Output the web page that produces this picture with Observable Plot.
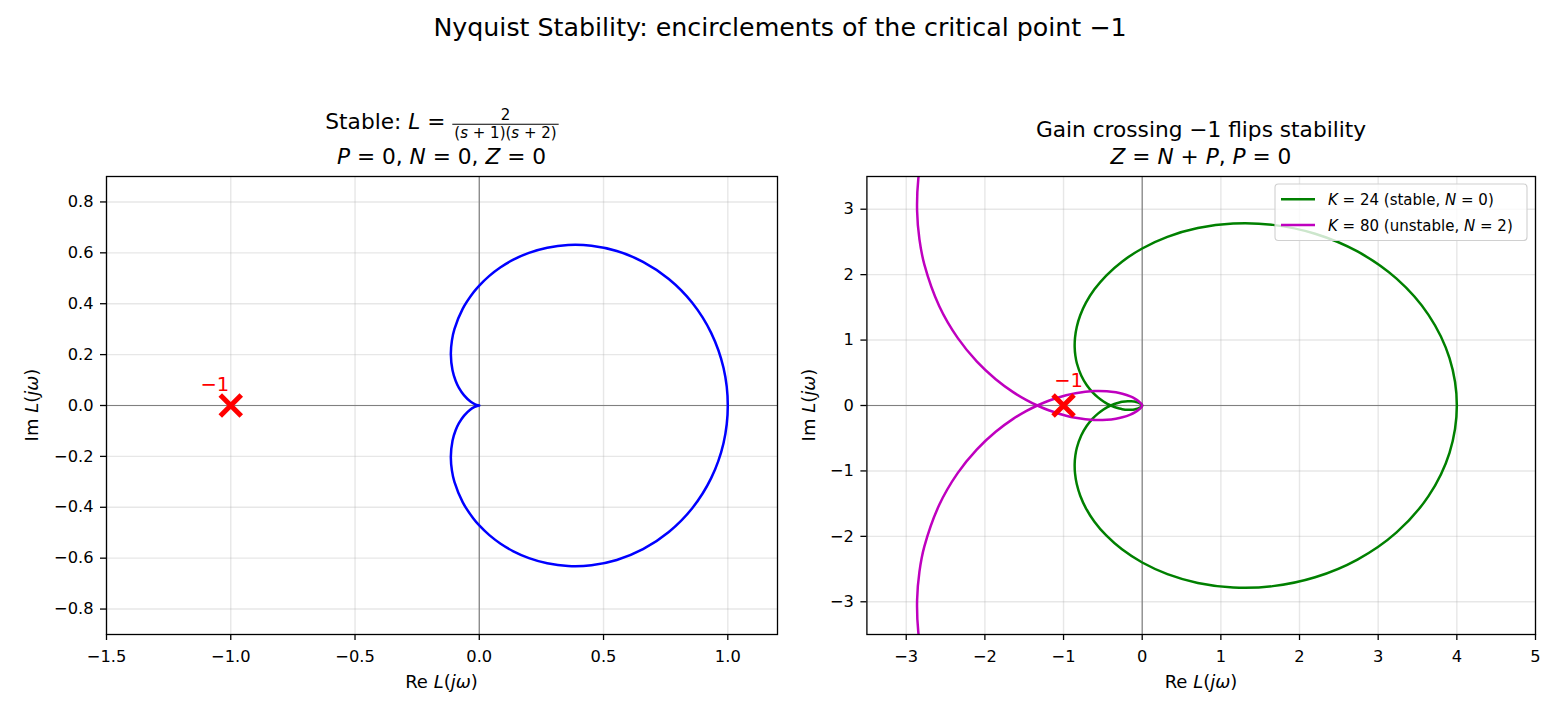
<!DOCTYPE html>
<html>
<head>
<meta charset="utf-8">
<script src="https://cdn.jsdelivr.net/npm/d3@7"></script>
<script src="https://cdn.jsdelivr.net/npm/@observablehq/plot@0.6"></script>
<style>
  html, body { margin: 0; padding: 0; background: #fff; }
  #fig { position: relative; width: 1560px; height: 715px; overflow: hidden; font-family: "DejaVu Sans", sans-serif; }
  #fig > svg { position: absolute; top: 0; }
  #fig text { white-space: pre; }
</style>
</head>
<body>
<div id="fig"></div>
<script>
// ---------- Left panel: L(s) = 2 / ((s+1)(s+2)) ----------
// Nyquist samples, ω from 0 to +∞ (lower branch) and ω from 0 to −∞ (upper branch)
const stableRe      = [1, 0.9827, 0.9330, 0.8569, 0.7626, 0.6588, 0.5532, 0.4514, 0.3574, 0.2734, 0.2, 0.1372, 0.0844, 0.0405, 0, -0.0246, -0.0664, -0.1, -0.1100, -0.1144, -0.1077, -0.0952, -0.0824, -0.0610, -0.0355, -0.0187, -0.0099, -0.0049, 0];
const stableImLower = [0, -0.1481, -0.2856, -0.4038, -0.4973, -0.5647, -0.6071, -0.6278, -0.6308, -0.6203, -0.6, -0.5732, -0.5424, -0.5096, -0.4714, -0.4431, -0.3806, -0.3, -0.2557, -0.2018, -0.1385, -0.0975, -0.0706, -0.0398, -0.0158, -0.0057, -0.0021, -0.0007, 0];
const stableImUpper = [0, 0.1481, 0.2856, 0.4038, 0.4973, 0.5647, 0.6071, 0.6278, 0.6308, 0.6203, 0.6, 0.5732, 0.5424, 0.5096, 0.4714, 0.4431, 0.3806, 0.3, 0.2557, 0.2018, 0.1385, 0.0975, 0.0706, 0.0398, 0.0158, 0.0057, 0.0021, 0.0007, 0];

// ---------- Right panel: L(s) = K / ((s+1)(s+2)(s+3)) ----------
const k24Re      = [4, 3.9067, 3.6396, 3.2336, 2.7365, 2.1978, 1.6605, 1.1567, 0.7067, 0.3203, 0, -0.2572, -0.4572, -0.6072, -0.7150, -0.7877, -0.8321, -0.8540, -0.8585, -0.8496, -0.8308, -0.7739, -0.7039, -0.6303, -0.5588, -0.4923, -0.4429, -0.4, -0.3541, -0.2900, -0.2541, -0.1839, -0.1348, -0.1003, -0.0757, -0.0450, -0.0281, -0.0125, -0.0027, -0.0004, 0];
const k24ImLower = [0, -0.7228, -1.3851, -1.9384, -2.3543, -2.6251, -2.7606, -2.7811, -2.7116, -2.5771, -2.4, -2.1985, -1.9868, -1.7752, -1.5709, -1.3785, -1.2005, -1.0383, -0.8922, -0.7617, -0.6462, -0.4552, -0.3099, -0.2011, -0.1205, -0.0615, -0.0259, 0, 0.0230, 0.0470, 0.0565, 0.0663, 0.0655, 0.0605, 0.0541, 0.0415, 0.0315, 0.0187, 0.0064, 0.0015, 0];
const k24ImUpper = [0, 0.7228, 1.3851, 1.9384, 2.3543, 2.6251, 2.7606, 2.7811, 2.7116, 2.5771, 2.4, 2.1985, 1.9868, 1.7752, 1.5709, 1.3785, 1.2005, 1.0383, 0.8922, 0.7617, 0.6462, 0.4552, 0.3099, 0.2011, 0.1205, 0.0615, 0.0259, 0, -0.0230, -0.0470, -0.0565, -0.0663, -0.0655, -0.0605, -0.0541, -0.0415, -0.0315, -0.0187, -0.0064, -0.0015, 0];

const k80Re      = [13.3333, 13.0223, 12.1320, 10.7787, 9.1217, 7.3260, 5.5350, 3.8557, 2.3557, 1.0677, 0, -0.8573, -1.5240, -2.0240, -2.3833, -2.6257, -2.7737, -2.8467, -2.8617, -2.8320, -2.7693, -2.5797, -2.3463, -2.1010, -1.8627, -1.6410, -1.4763, -1.3333, -1.1803, -0.9667, -0.8470, -0.6130, -0.4493, -0.3343, -0.2523, -0.1500, -0.0937, -0.0417, -0.0090, -0.0013, 0];
const k80ImLower = [0, -2.4093, -4.6170, -6.4613, -7.8477, -8.7503, -9.2020, -9.2703, -9.0387, -8.5903, -8, -7.3283, -6.6227, -5.9173, -5.2363, -4.5950, -4.0017, -3.4610, -2.9740, -2.5390, -2.1540, -1.5173, -1.0330, -0.6703, -0.4017, -0.2050, -0.0863, 0, 0.0767, 0.1567, 0.1883, 0.2210, 0.2183, 0.2017, 0.1803, 0.1383, 0.1050, 0.0623, 0.0213, 0.0050, 0];
const k80ImUpper = [0, 2.4093, 4.6170, 6.4613, 7.8477, 8.7503, 9.2020, 9.2703, 9.0387, 8.5903, 8, 7.3283, 6.6227, 5.9173, 5.2363, 4.5950, 4.0017, 3.4610, 2.9740, 2.5390, 2.1540, 1.5173, 1.0330, 0.6703, 0.4017, 0.2050, 0.0863, 0, -0.0767, -0.1567, -0.1883, -0.2210, -0.2183, -0.2017, -0.1803, -0.1383, -0.1050, -0.0623, -0.0213, -0.0050, 0];

// critical point
const criticalPoint = [{re: -1, im: 0, label: "\u22121"}];

// axes
const leftXDomain  = [-1.5, 1.2];
const leftYDomain  = [-0.9, 0.9];
const leftXTicks   = [-1.5, -1.0, -0.5, 0.0, 0.5, 1.0];
const leftYTicks   = [-0.8, -0.6, -0.4, -0.2, 0.0, 0.2, 0.4, 0.6, 0.8];
const rightXDomain = [-3.5, 5];
const rightYDomain = [-3.5, 3.5];
const rightXTicks  = [-3, -2, -1, 0, 1, 2, 3, 4, 5];
const rightYTicks  = [-3, -2, -1, 0, 1, 2, 3];

// series styling
const seriesColors = {stable: "#0000ff", k24: "#008000", k80: "#bf00bf"};
const legendLabels = [
  {key: "k24", parts: [["K", true], [" = 24 (stable, ", false], ["N", true], [" = 0)", false]]},
  {key: "k80", parts: [["K", true], [" = 80 (unstable, ", false], ["N", true], [" = 2)", false]]}
];

// texts
const suptitle = "Nyquist Stability: encirclements of the critical point \u22121";
const rightTitle1 = "Gain crossing \u22121 flips stability";

// ---------- helpers ----------
const branch = (re, im) => re.map((r, i) => ({re: r, im: im[i]}));
// full contour: ω from −∞ up to 0 along the upper branch, then 0 to +∞ along the lower one
const contour = (re, up, low) => [...branch(re, up).reverse(), ...branch(re, low).slice(1)];

const plotStyle = {fontFamily: "'DejaVu Sans', sans-serif", fontSize: "16.25px", color: "black", background: "none", overflow: "visible"};
const gridStyle = {stroke: "#b0b0b0", strokeOpacity: 0.3, strokeWidth: 1.4};
const zeroStyle = {stroke: "#808080", strokeWidth: 1.2};
const curveStyle = {x: "re", y: "im", strokeWidth: 2.5, curve: "catmull-rom", clip: true};

function panel({width, marginLeft, marginRight, xDomain, yDomain, xTicks, yTicks, fmt, curves, labelDx, labelDy}) {
  return Plot.plot({
    width, height: 715,
    marginLeft, marginRight, marginTop: 176, marginBottom: 81,
    x: {domain: xDomain},
    y: {domain: yDomain},
    style: plotStyle,
    marks: [
      Plot.gridX(xTicks, gridStyle),
      Plot.gridY(yTicks, gridStyle),
      Plot.ruleX([0], zeroStyle),
      Plot.ruleY([0], zeroStyle),
      ...curves.map(([data, color]) => Plot.line(data, {...curveStyle, stroke: color})),
      Plot.dot(criticalPoint, {x: "re", y: "im", symbol: "times", r: 9.6, stroke: "#ff0000", fill: "none", strokeWidth: 5}),
      Plot.text(criticalPoint, {x: "re", y: "im", text: "label", dx: labelDx, dy: labelDy, fill: "#ff0000", fontSize: 19.5}),
      Plot.frame({stroke: "black", strokeWidth: 1.3}),
      Plot.axisX(xTicks, {tickFormat: d3.format(fmt), tickSize: 6, tickPadding: 10, strokeWidth: 1.3, label: null}),
      Plot.axisY(yTicks, {tickFormat: d3.format(fmt), tickSize: 6, tickPadding: 7, strokeWidth: 1.3, label: null})
    ]
  });
}

const leftChart = panel({
  width: 790, marginLeft: 106, marginRight: 13,
  xDomain: leftXDomain, yDomain: leftYDomain, xTicks: leftXTicks, yTicks: leftYTicks, fmt: ".1f",
  curves: [[contour(stableRe, stableImUpper, stableImLower), seriesColors.stable]],
  labelDx: -16, labelDy: -21
});

const rightChart = panel({
  width: 780, marginLeft: 86.4, marginRight: 25,
  xDomain: rightXDomain, yDomain: rightYDomain, xTicks: rightXTicks, yTicks: rightYTicks, fmt: "d",
  curves: [
    [contour(k24Re, k24ImUpper, k24ImLower), seriesColors.k24],
    [contour(k80Re, k80ImUpper, k80ImLower), seriesColors.k80]
  ],
  labelDx: 5, labelDy: -25
});

const fig = document.getElementById("fig");
leftChart.style.left = "0px";
rightChart.style.left = "780px";
fig.append(leftChart, rightChart);

// ---------- titles, axis labels and legend ----------
const overlay = d3.select(fig).append("svg")
  .attr("width", 1560).attr("height", 715)
  .style("left", "0px").style("pointer-events", "none")
  .attr("font-family", "'DejaVu Sans', sans-serif");

function rich(parent, x, y, parts, {size, anchor = "middle", fill = "black", rotate = null} = {}) {
  const t = parent.append("text")
    .attr("x", x).attr("y", y)
    .attr("font-size", size).attr("text-anchor", anchor).attr("fill", fill);
  if (rotate != null) t.attr("transform", `rotate(${rotate},${x},${y})`);
  for (const [s, it] of parts) {
    const ts = t.append("tspan").text(s);
    if (it) ts.attr("font-style", "italic");
  }
  return t;
}

// figure title
rich(overlay, 780, 36, [[suptitle, false]], {size: 25.3});

// left title: "Stable: L = 2/((s+1)(s+2))" with a stacked fraction
{
  const g = overlay.append("g");
  const lead = rich(g, 0, 128.5, [["Stable: ", false], ["L", true], [" = ", false]], {size: 21.7, anchor: "start"});
  const num = rich(g, 0, 119.5, [["2", false]], {size: 15});
  const den = rich(g, 0, 137.5, [["(", false], ["s", true], [" + 1)(", false], ["s", true], [" + 2)", false]], {size: 15});
  const w1 = lead.node().getComputedTextLength();
  const wf = Math.max(num.node().getComputedTextLength(), den.node().getComputedTextLength()) + 4;
  num.attr("x", w1 + wf / 2);
  den.attr("x", w1 + wf / 2);
  g.append("line").attr("x1", w1).attr("x2", w1 + wf).attr("y1", 124.3).attr("y2", 124.3)
    .attr("stroke", "black").attr("stroke-width", 1.1);
  g.attr("transform", `translate(${442 - (w1 + wf) / 2},0)`);
}
rich(overlay, 441.5, 164, [["P", true], [" = 0, ", false], ["N", true], [" = 0, ", false], ["Z", true], [" = 0", false]], {size: 21.7});

// right title
rich(overlay, 1201, 137, [[rightTitle1, false]], {size: 21.7});
rich(overlay, 1201, 164, [["Z", true], [" = ", false], ["N", true], [" + ", false], ["P", true], [", ", false], ["P", true], [" = 0", false]], {size: 21.7});

// axis labels
const reLabel = [["Re ", false], ["L", true], ["(", false], ["j\u03c9", true], [")", false]];
const imLabel = [["Im ", false], ["L", true], ["(", false], ["j\u03c9", true], [")", false]];
rich(overlay, 441.5, 688, reLabel, {size: 18});
rich(overlay, 1201, 688, reLabel, {size: 18});
rich(overlay, 37.5, 405, imLabel, {size: 18, rotate: -90});
rich(overlay, 814.5, 405, imLabel, {size: 18, rotate: -90});

// legend (upper right of the right panel)
{
  const lg = overlay.append("g");
  lg.append("rect").attr("x", 1275).attr("y", 184).attr("width", 252).attr("height", 56.5)
    .attr("rx", 3.5).attr("fill", "white").attr("fill-opacity", 0.8)
    .attr("stroke", "#d0d0d0").attr("stroke-width", 1.1);
  legendLabels.forEach((d, i) => {
    const y = 199.3 + i * 25.8;
    lg.append("line").attr("x1", 1281).attr("x2", 1315).attr("y1", y).attr("y2", y)
      .attr("stroke", seriesColors[d.key]).attr("stroke-width", 2.5);
    rich(lg, 1328, y + 5.5, d.parts, {size: 15, anchor: "start"});
  });
}
</script>
</body>
</html>
